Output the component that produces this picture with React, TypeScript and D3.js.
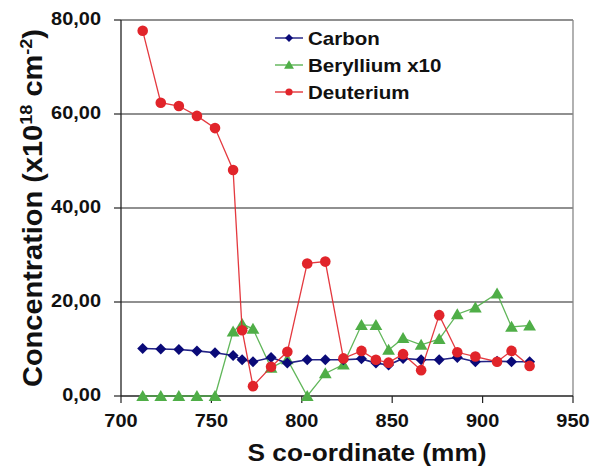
import React from "react";
import * as d3 from "d3";

const sCoord = [712, 722, 732, 742, 752, 762, 767, 773, 783, 792, 803, 813, 823, 833, 841, 848, 856, 866, 876, 886, 896, 908, 916, 926];
const carbon = [10.1, 10.0, 9.9, 9.6, 9.2, 8.6, 7.7, 7.3, 8.2, 7.0, 7.7, 7.7, 7.7, 7.9, 7.0, 6.6, 8.0, 7.7, 7.7, 8.2, 7.3, 7.4, 7.3, 7.3];
const beryllium = [0, 0, 0, 0, 0, 13.7, 15.3, 14.3, 6.0, 7.8, 0, 4.8, 6.7, 15.1, 15.1, 9.8, 12.3, 10.9, 12.1, 17.4, 18.8, 21.8, 14.7, 15.0];
const deuterium = [77.7, 62.4, 61.7, 59.6, 57.0, 48.1, 14.0, 2.1, 6.2, 9.4, 28.2, 28.6, 8.0, 9.6, 7.7, 7.1, 8.9, 5.5, 17.2, 9.3, 8.4, 7.3, 9.6, 6.4];
const xTicks = [700, 750, 800, 850, 900, 950];
const yTicks = [0, 20, 40, 60, 80];
const seriesNames = ["Carbon", "Beryllium x10", "Deuterium"];

const W = 601, H = 467;
const L = 121, R = 573, T = 20, B = 396;
const FONT = "'Liberation Sans', Arial, sans-serif";
const SX = 1.14;

const x = d3.scaleLinear().domain([700, 950]).range([L, R]);
const y = d3.scaleLinear().domain([0, 80]).range([B, T]);

const NAVY = "#0a0a78";
const GREEN = "#4fae47";
const RED = "#e1242a";

function marker(kind: string, cx: number, cy: number, s: number, color: string, key: any) {
  if (kind === "diamond") {
    const p = `M${cx},${cy - s}L${cx + s},${cy}L${cx},${cy + s}L${cx - s},${cy}Z`;
    return <path key={key} d={p} fill={color} />;
  }
  if (kind === "triangle") {
    const p = `M${cx},${cy - s * 1.05}L${cx + s * 1.1},${cy + s * 0.85}L${cx - s * 1.1},${cy + s * 0.85}Z`;
    return <path key={key} d={p} fill={color} />;
  }
  return <circle key={key} cx={cx} cy={cy} r={s} fill={color} />;
}

function SText(props: any) {
  const { x: tx, y: ty, size, anchor, children } = props;
  return (
    <text
      transform={`translate(${tx},${ty}) scale(${SX},1)`}
      fontFamily={FONT}
      fontWeight="bold"
      fontSize={size}
      textAnchor={anchor || "start"}
      fill="#111"
    >
      {children}
    </text>
  );
}

export default function App() {
  const series = [
    { name: seriesNames[1], vals: beryllium, color: GREEN, kind: "triangle", size: 5.8, lw: 1.3 },
    { name: seriesNames[0], vals: carbon, color: NAVY, kind: "diamond", size: 5.5, lw: 1.6 },
    { name: seriesNames[2], vals: deuterium, color: RED, kind: "circle", size: 5.3, lw: 1.3 },
  ];
  const line = d3.line<number>().x((_, i) => x(sCoord[i])).y((d) => y(d));

  const legend = [
    { name: seriesNames[0], color: NAVY, kind: "diamond", size: 4, cy: 38 },
    { name: seriesNames[1], color: GREEN, kind: "triangle", size: 4.5, cy: 65 },
    { name: seriesNames[2], color: RED, kind: "circle", size: 3.6, cy: 92 },
  ];

  return (
    <svg width={W} height={H} style={{ position: "absolute", left: 0, top: 0, background: "#fff" }}>
      <rect x={0} y={0} width={W} height={H} fill="#fff" />
      {/* gridlines */}
      {yTicks.filter((t) => t > 0).map((t) => (
        <line key={"g" + t} x1={L} x2={R} y1={y(t)} y2={y(t)} stroke="#222" strokeWidth={1.2} />
      ))}
      {/* right border */}
      <line x1={R} x2={R} y1={T} y2={B} stroke="#888" strokeWidth={1.3} />
      {/* axes */}
      <line x1={L} x2={L} y1={T} y2={B} stroke="#222" strokeWidth={1.3} />
      <line x1={L} x2={R} y1={B} y2={B} stroke="#222" strokeWidth={1.3} />
      {yTicks.map((t) => (
        <g key={"yt" + t}>
          <line x1={L - 7} x2={L} y1={y(t)} y2={y(t)} stroke="#222" strokeWidth={1.2} />
          <SText x={101} y={y(t) + 5} size={17.5} anchor="end">
            {t.toFixed(2).replace(".", ",")}
          </SText>
        </g>
      ))}
      {xTicks.map((t) => (
        <g key={"xt" + t}>
          <line x1={x(t)} x2={x(t)} y1={B} y2={B + 7} stroke="#222" strokeWidth={1.2} />
          <SText x={x(t)} y={427} size={17.5} anchor="middle">
            {t}
          </SText>
        </g>
      ))}
      {/* axis titles */}
      <SText x={367} y={461} size={23} anchor="middle">S co-ordinate (mm)</SText>
      <text
        transform={`translate(42,208) rotate(-90) scale(1,${SX})`}
        fontFamily={FONT}
        fontWeight="bold"
        fontSize={24}
        textAnchor="middle"
        fill="#111"
        textLength={358}
        lengthAdjust="spacingAndGlyphs"
      >
        Concentration (x10<tspan fontSize={15} dy={-9}>18</tspan>
        <tspan dy={9}> cm</tspan>
        <tspan fontSize={15} dy={-9}>-2</tspan>
        <tspan dy={9}>)</tspan>
      </text>
      {/* series */}
      {series.map((s) => (
        <g key={s.name}>
          <path d={line(s.vals) || ""} fill="none" stroke={s.color} strokeWidth={s.lw} opacity={0.9} />
          {s.vals.map((v, i) => marker(s.kind, x(sCoord[i]), y(v), s.size, s.color, i))}
        </g>
      ))}
      {/* legend */}
      {legend.map((l) => (
        <g key={"lg" + l.name}>
          <line x1={275} x2={303} y1={l.cy} y2={l.cy} stroke={l.color} strokeWidth={1.3} />
          {marker(l.kind, 289, l.cy, l.size, l.color, "m")}
          <SText x={308} y={l.cy + 6.5} size={18}>{l.name}</SText>
        </g>
      ))}
    </svg>
  );
}
